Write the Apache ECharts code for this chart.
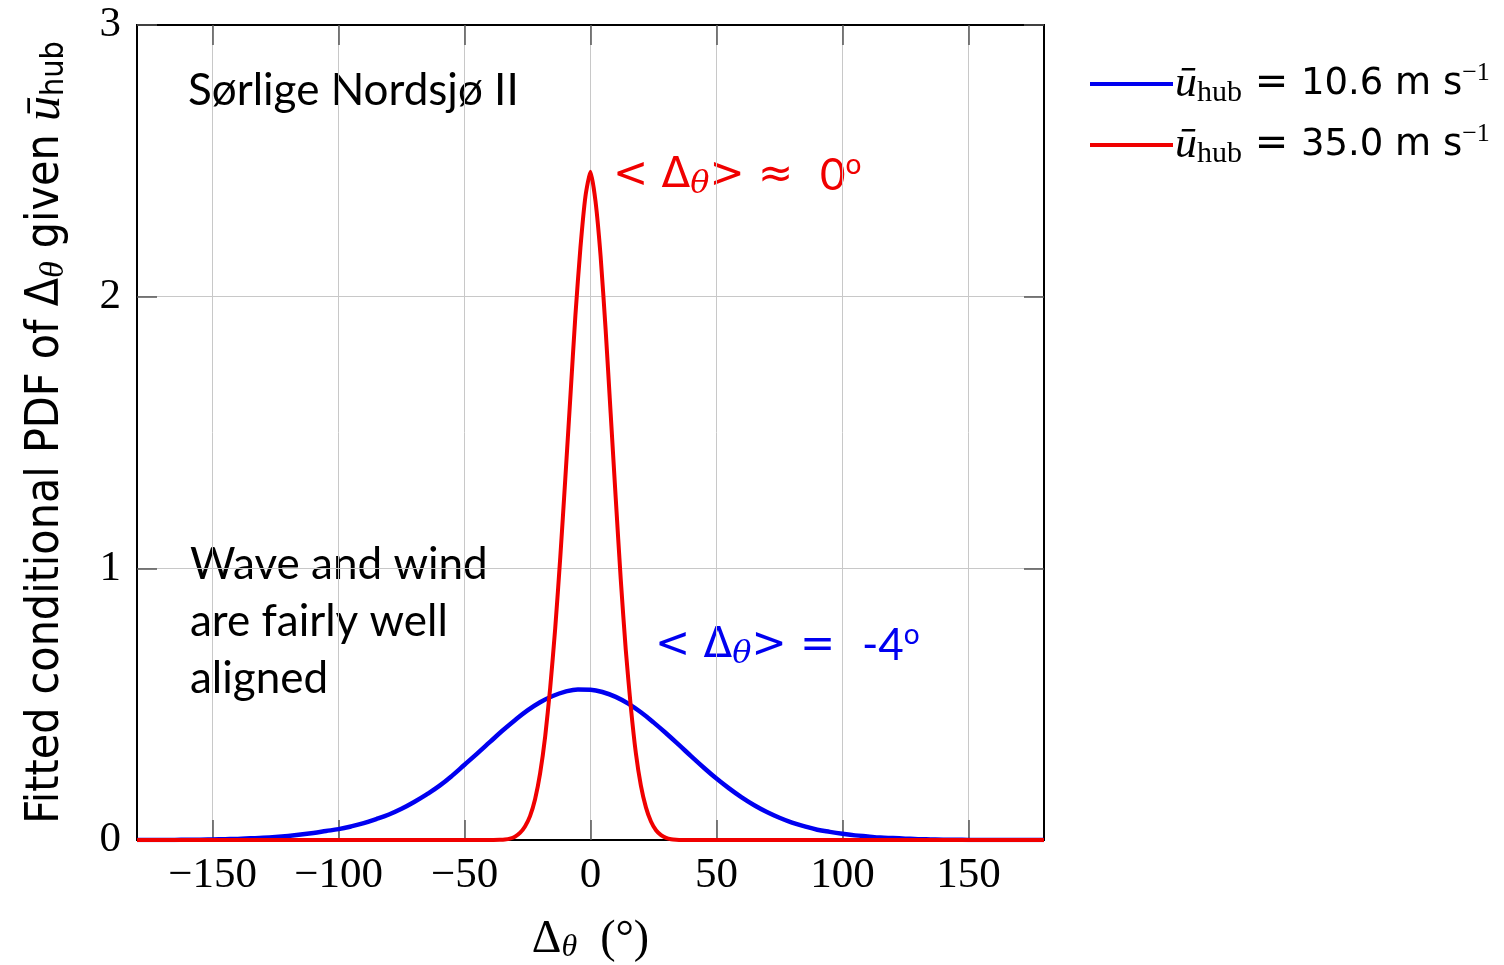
<!DOCTYPE html>
<html><head><meta charset="utf-8">
<script src="https://cdn.jsdelivr.net/npm/echarts@6/dist/echarts.min.js"></script>
<style>html,body{margin:0;padding:0;background:#fff}#c{width:1504px;height:965px}</style>
</head><body><div id="c"></div>
<script>
// Δθ (degrees) sample positions and fitted PDF values
const blueX = [-180,-175,-170,-165,-160,-155,-150,-145,-140,-135,-130,-125,-120,-115,-110,-105,-100,-95,-90,-85,-80,-75,-70,-65,-60,-55,-50,-45,-40,-35,-30,-25,-20,-15,-10,-5,0,5,10,15,20,25,30,35,40,45,50,55,60,65,70,75,80,85,90,95,100,105,110,115,120,125,130,135,140,145,150,155,160,165,170,175,180];
const blueY = [0,0,0,0,0.001,0.001,0.002,0.003,0.004,0.006,0.008,0.011,0.015,0.020,0.026,0.033,0.040,0.050,0.062,0.077,0.094,0.115,0.140,0.168,0.199,0.236,0.277,0.318,0.360,0.402,0.441,0.477,0.507,0.530,0.546,0.554,0.553,0.544,0.527,0.502,0.470,0.433,0.393,0.351,0.308,0.266,0.226,0.190,0.157,0.128,0.103,0.082,0.064,0.050,0.038,0.030,0.023,0.017,0.013,0.009,0.007,0.005,0.003,0.002,0.001,0.001,0,0,0,0,0,0,0];
const redX = [-180,-60,-40,-36,-34,-32,-30,-28,-26,-24,-22,-20,-18,-16,-14,-12,-10,-8,-6,-4,-2,0,2,4,6,8,10,12,14,16,18,20,22,24,26,28,30,32,34,36,40,60,180];
const redY = [0,0,0,0.001,0.002,0.005,0.012,0.026,0.050,0.088,0.150,0.245,0.380,0.560,0.780,1.040,1.330,1.630,1.930,2.180,2.370,2.460,2.350,2.150,1.880,1.570,1.260,0.960,0.700,0.490,0.320,0.200,0.120,0.068,0.036,0.018,0.008,0.003,0.001,0,0,0,0];
const xTickValues = [-150,-100,-50,0,50,100,150];
const seriesNames = ['10.6', '35.0'];
const seriesColors = ['#0000f0', '#f00000'];

const zip = (xs, ys) => xs.map((x, i) => [x, ys[i]]);
const serif = 'Liberation Serif';
const sans = 'Lato';
const fmtMinus = v => String(v).replace('-', '\u2212');

const chart = echarts.init(document.getElementById('c'), null, {renderer: 'canvas'});
const tickStyle = {show: true, inside: true, length: 20, lineStyle: {color: '#555', width: 1.5}};
const annRich = (col) => ({
  a: {fontFamily: 'DejaVu Sans', fontSize: 42, fill: col},
  s: {fontFamily: 'DejaVu Serif', fontStyle: 'italic', fontSize: 32, fill: col, verticalAlign: 'bottom', padding: [18, 0, 0, 0]},
  n: {fontFamily: sans, fontSize: 44, fill: col},
  o: {fontFamily: sans, fontSize: 28, fill: col, verticalAlign: 'top', padding: [0, 0, 22, 0]}
});
chart.setOption({
  animation: false,
  backgroundColor: '#fff',
  grid: {left: 137, top: 25, width: 907, height: 815, outerBoundsMode: 'none', containLabel: false,
    show: true, borderColor: '#000', borderWidth: 2, backgroundColor: 'transparent'},
  xAxis: [{
    type: 'value', min: -180, max: 180, position: 'bottom',
    axisLine: {show: true, onZero: false, lineStyle: {color: '#000', width: 2}},
    axisTick: Object.assign({customValues: xTickValues}, tickStyle),
    axisLabel: {customValues: xTickValues, formatter: fmtMinus, fontFamily: serif, fontSize: 43, color: '#000', margin: 14},
    splitLine: {show: true, lineStyle: {color: '#c8c8c8', width: 1}},
    name: '{d|\u0394}{s|\u03b8}{d|  (\u00b0)}', nameLocation: 'middle', nameGap: 76,
    nameTextStyle: {rich: {
      d: {fontFamily: serif, fontSize: 46, color: '#000'},
      s: {fontFamily: serif, fontStyle: 'italic', fontSize: 32, color: '#000', verticalAlign: 'bottom', padding: [16, 0, 0, 0]}
    }}
  }, {
    type: 'value', min: -180, max: 180, position: 'top',
    axisLine: {show: true, onZero: false, lineStyle: {color: '#000', width: 2}},
    axisTick: Object.assign({customValues: xTickValues}, tickStyle),
    axisLabel: {show: false}, splitLine: {show: false}
  }],
  yAxis: [{
    type: 'value', min: 0, max: 3, interval: 1, position: 'left',
    axisLine: {show: true, onZero: false, lineStyle: {color: '#000', width: 2}},
    axisTick: tickStyle,
    axisLabel: {fontFamily: serif, fontSize: 43, color: '#000', margin: 16},
    splitLine: {show: true, lineStyle: {color: '#c8c8c8', width: 1}},
    name: 'Fitted conditional PDF of \u0394{t|\u03b8} given {u|\u016b}{s|hub}', nameLocation: 'middle', nameGap: 66, nameRotate: 90,
    nameTextStyle: {fontFamily: 'DejaVu Sans Condensed', fontSize: 46, color: '#000', rich: {
      s: {fontFamily: 'DejaVu Sans Condensed', fontSize: 32, color: '#000', verticalAlign: 'bottom', padding: [16, 0, 0, 0]},
      t: {fontFamily: serif, fontStyle: 'italic', fontSize: 34, color: '#000', verticalAlign: 'bottom', padding: [16, 0, 0, 0]},
      u: {fontFamily: serif, fontStyle: 'italic', fontSize: 50, color: '#000'}
    }}
  }, {
    type: 'value', min: 0, max: 3, interval: 1, position: 'right',
    axisLine: {show: true, onZero: false, lineStyle: {color: '#000', width: 2}},
    axisTick: tickStyle, axisLabel: {show: false}, splitLine: {show: false}
  }],
  legend: {
    orient: 'vertical', left: 1085, top: 55, itemWidth: 83, itemHeight: 4, icon: 'rect', itemGap: 13,
    data: seriesNames,
    formatter: n => '{u|\u016b}{h|hub}{e| = }{t|' + n + ' m s}{p|\u22121}',
    textStyle: {padding: [0, 0, 0, -3], rich: {
      u: {fontFamily: serif, fontStyle: 'italic', fontSize: 44, color: '#000'},
      h: {fontFamily: serif, fontSize: 30, color: '#000', verticalAlign: 'bottom', padding: [18, 0, 0, 0]},
      e: {fontFamily: 'DejaVu Sans', fontSize: 40, color: '#000'},
      t: {fontFamily: 'DejaVu Sans', fontSize: 37, color: '#000'},
      p: {fontFamily: serif, fontSize: 26, color: '#000', verticalAlign: 'top', padding: [0, 0, 20, 0]}
    }}
  },
  series: [{
    name: seriesNames[0], type: 'line', data: zip(blueX, blueY), smooth: 0.4, symbol: 'none',
    lineStyle: {color: seriesColors[0], width: 4.5}, itemStyle: {color: seriesColors[0]}, z: 3
  }, {
    name: seriesNames[1], type: 'line', data: zip(redX, redY), smooth: 0.2, symbol: 'none',
    lineStyle: {color: seriesColors[1], width: 4}, itemStyle: {color: seriesColors[1]}, z: 4
  }],
  graphic: [
    {type: 'text', left: 188, top: 69, style: {text: 'S\u00f8rlige Nordsj\u00f8 II', fontFamily: sans, fontSize: 44, fill: '#000'}},
    {type: 'text', left: 190, top: 536, style: {text: 'Wave and wind\nare fairly well\naligned', fontFamily: sans, fontSize: 44, lineHeight: 57, fill: '#000'}},
    {type: 'text', left: 613, top: 151, style: {
      text: '{a|< \u0394}{s|\u03b8}{a|> \u2248  }{n|0}{o|o}', rich: annRich('#f00000')}},
    {type: 'text', left: 655, top: 621, style: {
      text: '{a|< \u0394}{s|\u03b8}{a|> =  }{n|-4}{o|o}', rich: annRich('#0000f0')}}
  ]
});
</script>
</body></html>
